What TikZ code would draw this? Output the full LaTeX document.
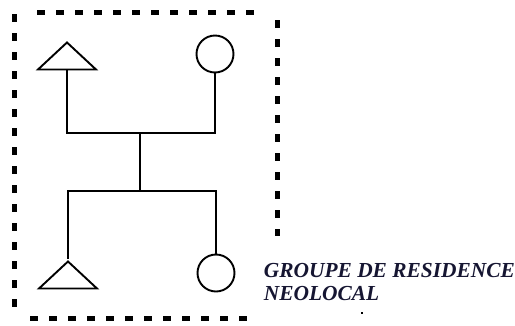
\documentclass[tikz,border=0pt]{standalone}
\usepackage{fontspec}
\setmainfont{Liberation Serif}
\usetikzlibrary{shapes.geometric}
\definecolor{legendink}{RGB}{22,22,50}
\tikzset{
	homme/.style={draw, isosceles triangle, isosceles triangle stretches,
		shape border rotate=90, minimum width=58pt, minimum height=27pt,
		inner sep=0pt, line width=1.9pt},
	femme/.style={draw, circle, minimum size=37pt, inner sep=0pt, line width=1.9pt},
	cadre/.style={line width=5pt, dash pattern=on 8pt off 11pt},
}
\begin{document}
\begin{tikzpicture}[x=1pt, y=-1pt, line width=1.9pt]
		\useasboundingbox (0,0) rectangle (515,325);
		% cadre pointille
		\draw[cadre] (37,12) -- (258,12);
		\draw[cadre] (14,14) -- (14,310);
		\draw[cadre] (277,20) -- (277,236);
		\draw[cadre] (30,318) -- (252,318);
		% individus
		\node[homme, anchor=apex] (h1) at (67,40) {};
		\node[femme] (f1) at (215,54) {};
		\node[homme, anchor=apex] (h2) at (68,259) {};
		\node[femme] (f2) at (216,273) {};
		\coordinate (m1) at (140,133);
		\coordinate (m2) at (140,191);
		% liens
		\draw (h1.south) |- (m1) -| (f1.south);
		\draw (m1) -- (m2);
		\draw (h2.apex) |- (m2) -| (f2.north);
		\fill (361,312) rectangle (363,314);
		\node[anchor=north west, inner sep=0pt, align=left, text=legendink,
			font=\bfseries\itshape\fontsize{21.4}{23}\selectfont] (legende) at (263,262)
			{GROUPE DE RESIDENCE\\NEOLOCAL};
		\end{tikzpicture}
\end{document}
